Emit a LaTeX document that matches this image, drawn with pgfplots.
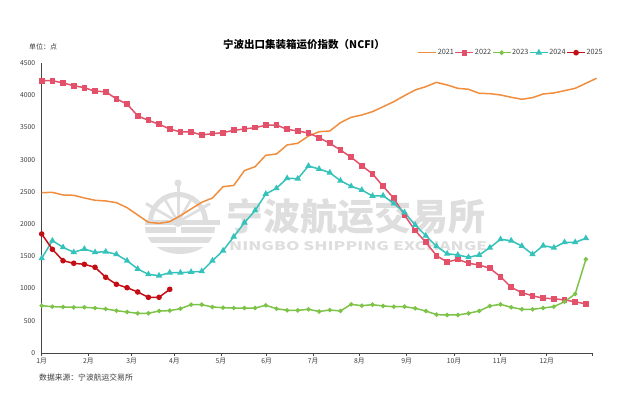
\documentclass[border=0pt]{standalone}
\usepackage{fontspec}
\setmainfont{Noto Sans CJK SC}
\usepackage{graphicx}
\usepackage{pgfplots}
\pgfplotsset{compat=1.18}
\definecolor{c21}{RGB}{240,142,62}
\definecolor{c22}{RGB}{226,80,106}
\definecolor{c23}{RGB}{125,195,72}
\definecolor{c24}{RGB}{52,194,186}
\definecolor{c25}{RGB}{196,14,22}
\definecolor{wm}{RGB}{222,222,222}
\definecolor{axc}{RGB}{70,70,70}
\definecolor{txc}{RGB}{60,60,60}
\begin{document}
\begin{tikzpicture}[x=1pt,y=1pt]
\path[use as bounding box] (0,0) rectangle (622,393);
% watermark logo
\begin{scope}[wm]
\fill (148,171) arc[start angle=180,end angle=0,radius=30] -- (203,171) arc[start angle=0,end angle=180,radius=25] -- cycle;
\foreach \a in {30,60,90,120,150} {\draw[line width=2.6pt] (178,171) -- ++(\a:30);}
\draw[line width=3pt] (178,171) -- ++(90:38);
\fill (178,210) circle (3.5);
\draw[line width=3pt] (178,171) ++(30:28) -- ++(30:9);
\draw[line width=3pt] (178,171) ++(150:28) -- ++(150:9);
\fill (178,171) circle (5);
\fill (145,168) rectangle (220,173);
\begin{scope}
\clip (145,166) -- (215,166) arc[start angle=0,end angle=-180,x radius=35,y radius=27] -- cycle;
\fill (140,160) rectangle (176,166);
\fill (181,160) rectangle (220,166);
\fill (140,150) rectangle (220,156);
\fill (140,136) rectangle (220,146);
\end{scope}
\end{scope}
\node[wm, anchor=west, inner sep=0pt, font=\fontsize{37}{37}\selectfont\bfseries] at (226,177) {宁波航运交易所};
\node[wm, anchor=west, inner sep=0pt] at (229,147) {\resizebox{258pt}{9pt}{\bfseries NINGBO SHIPPING EXCHANGE}};
% texts
\node[anchor=center, inner sep=0pt, font=\fontsize{10.5}{11}\selectfont\bfseries, text=black] at (304,348) {宁波出口集装箱运价指数（NCFI）};
\node[anchor=west, inner sep=0pt, font=\fontsize{7}{8}\selectfont, text=txc] at (29,346) {单位：点};
\node[anchor=west, inner sep=0pt, font=\fontsize{7.8}{9}\selectfont, text=txc] at (39,15) {数据来源：宁波航运交易所};
\begin{axis}[
  at={(41.7pt,40pt)}, anchor=south west, scale only axis,
  width=551pt, height=290pt,
  xmin=0, xmax=51.64, ymin=0, ymax=4500, clip=false,
  axis lines=left, axis line style={-, axc, line width=0.7pt},
  xtick={0,4.37,8.43,12.43,16.80,21.09,25.45,29.77,34.21,38.64,42.95,47.33,51.64},
  xticklabels={1月,2月,3月,4月,5月,6月,7月,8月,9月,10月,11月,12月,{}},
  ytick={0,500,...,4500},
  tick align=outside, major tick length=3pt,
  xtick style={axc, line width=0.6pt},
  ytick style={draw=none},
  tick label style={font=\fontsize{6.8}{8}\selectfont, text=txc},
  x tick label style={yshift=1pt},
  /pgf/number format/assume math mode=true,
  /pgf/number format/1000 sep={},
  legend columns=-1,
  legend image code/.code={\draw[mark repeat=2,mark phase=2,line width=1.6pt] plot coordinates {(0pt,0pt) (9pt,0pt) (18pt,0pt)};},
  legend style={at={(1,1)}, anchor=south east, xshift=11pt, yshift=6pt, draw=none, fill=none,
    font=\fontsize{7.3}{8}\selectfont, text=txc, inner sep=0pt,
    nodes={inner sep=0.7pt},
    /tikz/every even column/.append style={column sep=0pt},
    /tikz/every odd column/.append style={column sep=0pt}},
  legend cell align=left,
]
\addplot[c21, line width=1.5pt, no marks] coordinates {
(0,2488)(1,2493)(2,2452)(3,2447)(4,2405)(5,2370)(6,2359)(7,2333)(8,2255)(9,2141)
(10,2028)(11,2012)(12,2038)(13,2131)(14,2235)(15,2338)(16,2405)(17,2581)(18,2600)(19,2830)
(20,2891)(21,3068)(22,3088)(23,3228)(24,3254)(25,3367)(26,3434)(27,3445)(28,3574)(29,3657)
(30,3693)(31,3745)(32,3822)(33,3900)(34,3993)(35,4081)(36,4133)(37,4200)(38,4159)(39,4107)
(40,4092)(41,4030)(42,4024)(43,4004)(44,3968)(45,3937)(46,3962)(47,4019)(48,4035)(49,4071)
(50,4107)(51,4185)(52,4263)};
\addlegendentry{2021}
\addplot[c22, line width=1.5pt, mark=square*, mark size=2.1pt] coordinates {
(0,4226)(1,4226)(2,4190)(3,4148)(4,4117)(5,4061)(6,4055)(7,3942)(8,3864)(9,3678)
(10,3611)(11,3549)(12,3476)(13,3430)(14,3430)(15,3383)(16,3404)(17,3419)(18,3456)(19,3476)
(20,3497)(21,3533)(22,3538)(23,3471)(24,3445)(25,3414)(26,3341)(27,3254)(28,3150)(29,3037)
(30,2907)(31,2780)(32,2586)(33,2401)(34,2141)(35,1900)(36,1720)(37,1510)(38,1412)(39,1454)
(40,1392)(41,1366)(42,1314)(43,1184)(44,1019)(45,936)(46,889)(47,849)(48,843)(49,822)
(50,796)(51,760)};
\addlegendentry{2022}
\addplot[c23, line width=1.5pt, mark=*, mark size=1.4pt] coordinates {
(0,734)(1,719)(2,714)(3,709)(4,709)(5,698)(6,683)(7,657)(8,636)(9,616)
(10,616)(11,652)(12,657)(13,688)(14,750)(15,750)(16,714)(17,703)(18,698)(19,698)
(20,698)(21,740)(22,688)(23,662)(24,662)(25,678)(26,644)(27,667)(28,652)(29,755)
(30,734)(31,750)(32,729)(33,719)(34,719)(35,693)(36,652)(37,595)(38,590)(39,590)
(40,616)(41,652)(42,729)(43,755)(44,709)(45,678)(46,678)(47,698)(48,719)(49,796)
(50,916)(51,1454)};
\addlegendentry{2023}
\addplot[c24, line width=1.5pt, mark=triangle*, mark size=2.3pt] coordinates {
(0,1469)(1,1743)(2,1640)(3,1563)(4,1614)(5,1563)(6,1572)(7,1531)(8,1432)(9,1304)
(10,1221)(11,1200)(12,1246)(13,1246)(14,1257)(15,1267)(16,1432)(17,1588)(18,1805)(19,2022)
(20,2210)(21,2467)(22,2556)(23,2711)(24,2705)(25,2902)(26,2855)(27,2798)(28,2674)(29,2587)
(30,2529)(31,2436)(32,2441)(33,2320)(34,2180)(35,1986)(36,1820)(37,1655)(38,1540)(39,1521)
(40,1485)(41,1521)(42,1634)(43,1764)(44,1743)(45,1660)(46,1531)(47,1666)(48,1634)(49,1718)
(50,1718)(51,1780)};
\addlegendentry{2024}
\addplot[c25, line width=1.5pt, mark=*, mark size=2pt] coordinates {
(0,1847)(1,1609)(2,1432)(3,1392)(4,1376)(5,1330)(6,1175)(7,1066)(8,1013)(9,947)
(10,864)(11,864)(12,988)};
\addlegendentry{2025}
\end{axis}
\end{tikzpicture}
\end{document}
